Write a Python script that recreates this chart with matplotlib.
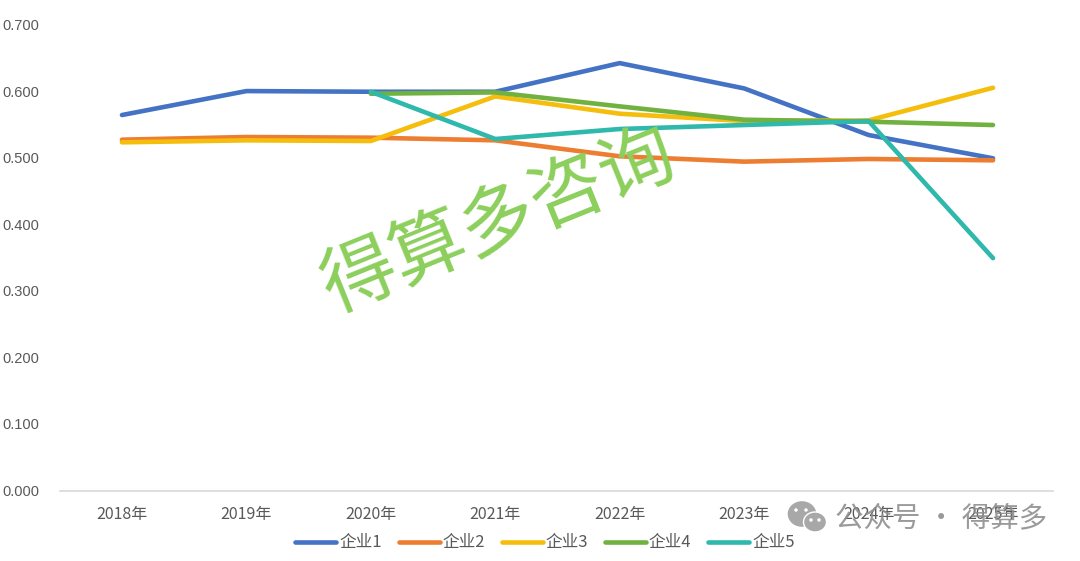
#!/usr/bin/env python3
import matplotlib
matplotlib.use("Agg")
import matplotlib.pyplot as plt
from matplotlib.patches import Ellipse

plt.rcParams["font.family"] = ["Noto Sans CJK SC", "DejaVu Sans"]

years = ["2018年", "2019年", "2020年", "2021年", "2022年", "2023年", "2024年", "2025年"]
yticks = [0.0, 0.1, 0.2, 0.3, 0.4, 0.5, 0.6, 0.7]

firm1 = [0.564, 0.600, 0.599, 0.599, 0.642, 0.604, 0.534, 0.499]
firm2 = [0.527, 0.531, 0.530, 0.526, 0.502, 0.494, 0.498, 0.496]
firm3 = [0.523, 0.526, 0.525, 0.592, 0.566, 0.555, 0.556, 0.605]
firm4 = [None, None, 0.596, 0.598, 0.577, 0.557, 0.554, 0.549]
firm5 = [None, None, 0.599, 0.528, 0.543, 0.549, 0.555, 0.349]

names = ["企业1", "企业2", "企业3", "企业4", "企业5"]
colors = ["#4472c4", "#ed7d31", "#f5bd0c", "#70b13f", "#2fb8ac"]
series = [firm1, firm2, firm3, firm4, firm5]

W, H = 1080, 561
fig = plt.figure(figsize=(W / 100, H / 100), dpi=100)
ax = fig.add_axes([60 / W, 1 - 490.5 / H, (1053 - 60) / W, (490.5 - 24.5) / H])

x = range(len(years))
for name, color, values in zip(names, colors, series):
    ys = [float("nan") if v is None else v for v in values]
    ax.plot(x, ys, color=color, lw=3.3, label=name, solid_capstyle="round", solid_joinstyle="round")

ax.set_xlim(-0.498, 7.482)
ax.set_ylim(0, 0.7)
ax.set_xticks(list(x))
ax.set_xticklabels(years, fontsize=11.5, color="#595959")
ax.set_yticks(yticks)
ax.set_yticklabels([f"{v:.3f}" for v in yticks], fontsize=10.5, color="#595959", family="Liberation Sans")
ax.tick_params(length=0)
ax.tick_params(axis="x", pad=11)
ax.tick_params(axis="y", pad=15)
for side in ["top", "right", "left"]:
    ax.spines[side].set_visible(False)
ax.spines["bottom"].set_color("#d9d9d9")
ax.spines["bottom"].set_linewidth(1.2)

ax.legend(loc="center", bbox_to_anchor=(545 / W, 1 - 543 / H), bbox_transform=fig.transFigure,
          ncol=5, frameon=False, fontsize=12, labelcolor="#595959",
          handlelength=2.46, handletextpad=0.18, columnspacing=1.0)

# watermark across the plot
fig.text(499 / W, 1 - 222 / H, "得算多咨询", fontsize=54, color="#8ccf5c", rotation=22,
         ha="center", va="center", rotation_mode="anchor", zorder=5, fontweight="medium")

# wechat badge, bottom right
badge = "#a8a8a8"
fig.text(941 / W, 1 - 518 / H, "公众号 · 得算多", fontsize=20.5, color="#8f8f8f", alpha=0.9,
         ha="center", va="center")
for cx, cy, w, h in [(802, 514, 30, 27), (815, 522, 23, 20)]:
    fig.add_artist(Ellipse((cx / W, 1 - cy / H), w / W, h / H, transform=fig.transFigure,
                           facecolor=badge, edgecolor="white", lw=1))
for cx, cy in [(796, 510), (806, 510), (811, 520), (819, 520)]:
    fig.add_artist(Ellipse((cx / W, 1 - cy / H), 3.5 / W, 3.5 / H, transform=fig.transFigure,
                           facecolor="white", edgecolor="none"))

fig.savefig("out.png", dpi=100)
